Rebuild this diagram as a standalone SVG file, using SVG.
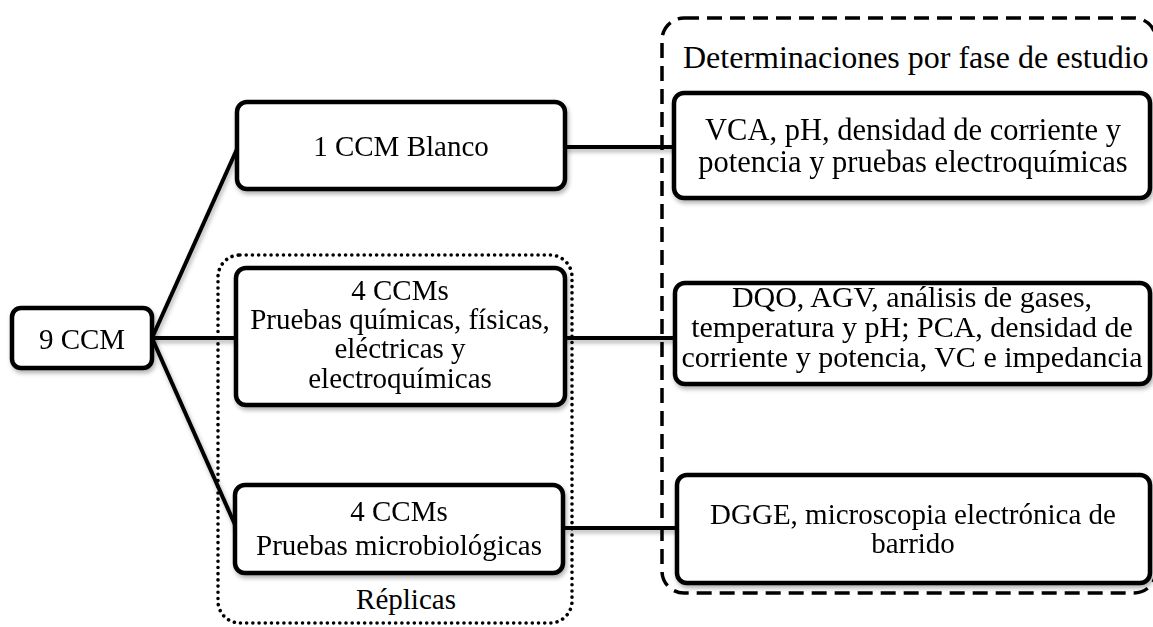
<svg xmlns="http://www.w3.org/2000/svg" width="1153" height="627" viewBox="0 0 1153 627">
  <defs>
    <filter id="sh" x="-10%" y="-10%" width="120%" height="130%">
      <feDropShadow dx="1.5" dy="3" stdDeviation="2" flood-color="#000" flood-opacity="0.3"/>
    </filter>
  </defs>
  <style>
    .box { fill: #fff; stroke: #000; stroke-width: 4.5; }
    .conn { stroke: #000; stroke-width: 4; fill: none; stroke-linecap: butt; }
    .t { font-family: "Liberation Serif", "Times New Roman", serif; font-size: 29px; fill: #000; text-anchor: middle; }
    .big { font-size: 30.5px; }
    .mid { font-size: 30px; }
    .dash { fill: none; stroke: #000; stroke-width: 3.5; stroke-dasharray: 15 8; }
    .dot { fill: none; stroke: #000; stroke-width: 3.6; stroke-dasharray: 0.01 6.2; stroke-linecap: round; }
  </style>
  <rect width="1153" height="627" fill="#fff"/>

  <g id="phase-group">
    <rect class="dash" x="662" y="18" width="494" height="575" rx="22"/>
    <text class="t" x="683" y="68" style="text-anchor:start;font-size:32px">Determinaciones por fase de estudio</text>
  </g>

  <g id="replicas-group">
    <rect class="dot" x="218" y="255" width="354" height="368" rx="22"/>
    <text class="t" x="406" y="609">Réplicas</text>
  </g>

  <g id="connectors" filter="url(#sh)">
    <line class="conn" x1="152" y1="338" x2="237" y2="149"/>
    <line class="conn" x1="152" y1="338" x2="236" y2="338"/>
    <line class="conn" x1="152" y1="338" x2="236" y2="527"/>
    <line class="conn" x1="565" y1="147" x2="675" y2="147"/>
    <line class="conn" x1="565" y1="338" x2="676" y2="338"/>
    <line class="conn" x1="565" y1="528" x2="678" y2="528"/>
  </g>

  <g id="n-9ccm" filter="url(#sh)">
    <rect class="box" x="12" y="308" width="140" height="60" rx="9"/>
    <text class="t" x="82" y="349">9 CCM</text>
  </g>

  <g id="n-blanco" filter="url(#sh)">
    <rect class="box" x="237" y="102" width="328" height="87" rx="10"/>
    <text class="t" x="401" y="156">1 CCM Blanco</text>
  </g>

  <g id="n-fisicas" filter="url(#sh)">
    <rect class="box" x="236" y="268" width="329" height="137" rx="10"/>
    <text class="t" x="400" y="300">4 CCMs</text>
    <text class="t" x="400" y="329">Pruebas químicas, físicas,</text>
    <text class="t" x="400" y="358">eléctricas y</text>
    <text class="t" x="400" y="388">electroquímicas</text>
  </g>

  <g id="n-micro" filter="url(#sh)">
    <rect class="box" x="235" y="485" width="328" height="88" rx="10"/>
    <text class="t" x="399" y="521">4 CCMs</text>
    <text class="t" x="399" y="555">Pruebas microbiológicas</text>
  </g>

  <g id="n-r1" filter="url(#sh)">
    <rect class="box" x="674" y="93" width="476" height="105" rx="10"/>
    <text class="t big" x="913" y="140">VCA, pH, densidad de corriente y</text>
    <text class="t big" x="913" y="172">potencia y pruebas electroquímicas</text>
  </g>

  <g id="n-r2" filter="url(#sh)">
    <rect class="box" x="675" y="283" width="475" height="101" rx="10"/>
    <text class="t mid" x="912" y="307">DQO, AGV, análisis de gases,</text>
    <text class="t mid" x="912" y="337">temperatura y pH; PCA, densidad de</text>
    <text class="t mid" x="912" y="367">corriente y potencia, VC e impedancia</text>
  </g>

  <g id="n-r3" filter="url(#sh)">
    <rect class="box" x="677" y="475" width="473" height="108" rx="10"/>
    <text class="t" x="913" y="524">DGGE, microscopia electrónica de</text>
    <text class="t" x="913" y="553">barrido</text>
  </g>
</svg>
